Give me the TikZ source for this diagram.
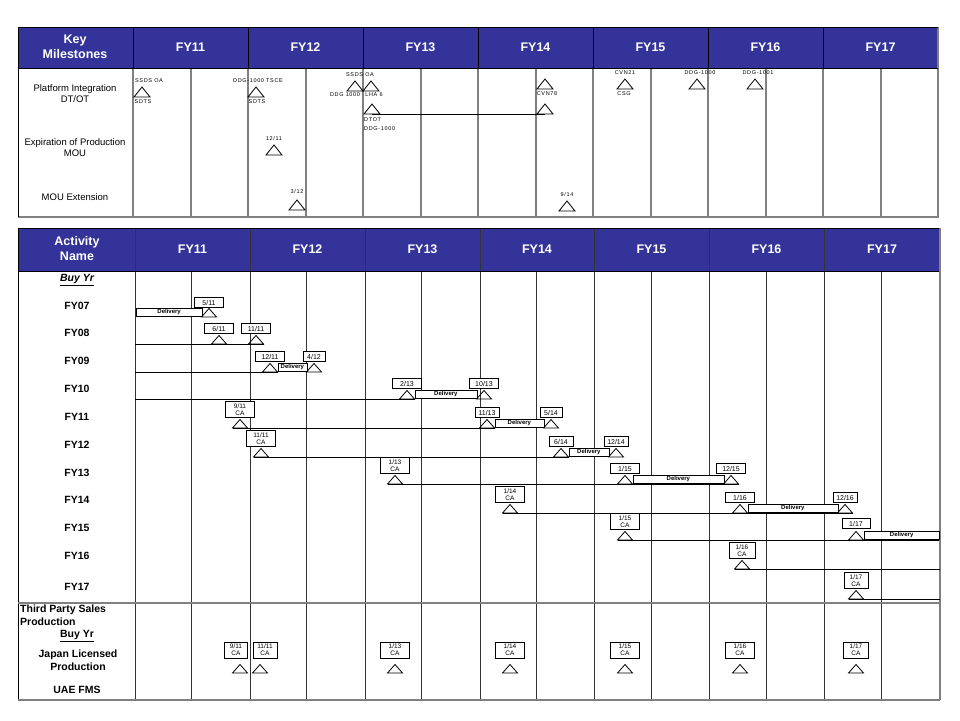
\documentclass[tikz,border=0pt]{standalone}
\usepackage{fontspec}
\setmainfont{Liberation Sans}
\newfontfamily\widefont[LetterSpace=12.0]{Liberation Sans}
\usepackage{tikz}
\usetikzlibrary{calc,positioning}
\definecolor{hdrblue}{RGB}{51,51,153}
\definecolor{gridgray}{RGB}{128,128,128}

% milestone triangle: name, base centre
\newcommand\tri[2]{%
  \coordinate (#1) at (#2);
  \coordinate (#1-l) at ($(#1)+(-\trw,0)$);
  \coordinate (#1-r) at ($(#1)+(\trw,0)$);
  \coordinate (#1-a) at ($(#1)+(0,-\trh)$);
  \draw[line width=0.8pt] (#1-l) -- (#1-a) -- (#1-r) -- cycle;}
% delivery bar: name, left base point, right base point
\newcommand\delv[3]{%
  \path let \p1=(#2), \p2=(#3) in
    node[delbox,anchor=south west,minimum width=\x2-\x1,minimum height=\trh pt] (#1) at (#2) {Delivery};}

\begin{document}
\begin{tikzpicture}[x=1pt,y=-1pt,
  hdr/.style={text=white,font=\bfseries\fontsize{12.5}{15}\selectfont,align=center},
  rowlbl/.style={font=\bfseries\fontsize{10.5}{13}\selectfont,align=center},
  toplbl/.style={font=\fontsize{9.5}{11}\selectfont,align=center},
  mslbl/.style={font=\widefont\fontsize{5.5}{8}\selectfont,inner sep=0pt},
  datebox/.style={draw,line width=0.8pt,fill=white,minimum width=29pt,minimum height=10pt,inner sep=0pt,font=\fontsize{7}{7}\selectfont},
  cabox/.style={datebox,minimum height=16pt,align=center,font=\fontsize{6.5}{7}\selectfont},
  delbox/.style={draw,line width=0.8pt,fill=white,inner sep=0pt,font=\bfseries\fontsize{6}{6}\selectfont},
  gline/.style={line width=0.8pt}]
\useasboundingbox[fill=white] (0,0) rectangle (960,720);

%% key milestones table
\fill[hdrblue] (18,27) rectangle (938,68);
\foreach \x in {191,306,421,536,651,766,881}
  \draw[gridgray,line width=1.5pt] (\x,68) -- (\x,217);
\foreach \x in {133,248,363,478,593,708,823} {
  \draw[line width=0.8pt] (\x,27) -- (\x,68);
  \draw[gridgray,line width=1.5pt] (\x,68) -- (\x,217);
}
\draw[gridgray,line width=1.5pt] (18,217) -- (938,217) -- (938,27);
\draw[line width=0.8pt] (18,217) -- (18,27) -- (938,27);
\draw[line width=0.8pt] (18,68) -- (938,68);
\node[hdr] (kmhd) at (75,47) {Key\\Milestones};
\foreach \y [count=\i from 0] in {11,...,17}
  \node[hdr] (kh\y) at ({190.5+115*\i},47) {FY\y};
\node[toplbl] (pidt) at (75,94) {Platform Integration\\DT/OT};
\node[toplbl] (expm) at (75,148) {Expiration of Production\\MOU};
\node[toplbl] (moux) at (75,197) {MOU Extension};

\def\trw{8}\def\trh{10}
\tri{k1}{142,97} \tri{k2}{256,97}
\tri{k3}{355,91} \tri{k4}{371,91}
\tri{k5}{372,114} \tri{k7}{545,114}
\tri{k6}{545,89} \tri{k8}{625,89} \tri{k9}{697,89} \tri{k10}{755,89}
\tri{k11}{274,155} \tri{k12}{297,210} \tri{k13}{567,211}
\draw[gline] (k5) -- (k7);
\node[mslbl] (n1) at (149,81) {SSDS OA};
\node[mslbl] (n2) at (143,102) {SDTS};
\node[mslbl] (n3) at (258,81) {DDG-1000 TSCE};
\node[mslbl] (n4) at (257,102) {SDTS};
\node[mslbl] (n5) at (360,75) {SSDS OA};
\node[mslbl] (n6) at (345,95) {DDG 1000};
\node[mslbl] (n7) at (374,95) {LHA 6};
\node[mslbl,anchor=west] (n8) at (364,120) {DTOT};
\node[mslbl,anchor=west] (n9) at (364,129) {DDG-1000};
\node[mslbl] (n10) at (547,94) {CVN78};
\node[mslbl] (n11) at (625,73) {CVN21};
\node[mslbl] (n12) at (624,94) {CSG};
\node[mslbl] (n13) at (700,73) {DDG-1000};
\node[mslbl] (n14) at (758,73) {DDG-1001};
\node[mslbl] (n15) at (274,139) {12/11};
\node[mslbl] (n16) at (297,192) {3/12};
\node[mslbl] (n17) at (567,195) {9/14};

%% activity table
\fill[hdrblue] (18,228) rectangle (940,271);
\foreach \x in {191,306,421,536,651,766,881}
  \draw[black!80,line width=0.8pt] (\x,271) -- (\x,700);
\foreach \x in {135,250,365,480,594,709,824}
  \draw[black!80,line width=0.8pt] (\x,228) -- (\x,700);
\draw[line width=0.8pt] (18,700) -- (18,228) -- (940,228);
\draw[line width=0.8pt] (18,271) -- (940,271);
\draw[gridgray,line width=1.5pt] (940,228) -- (940,700);
\draw[gridgray,line width=2pt] (18,603) -- (940,603);
\draw[gridgray,line width=2pt] (18,700) -- (940,700);
\node[hdr] (anhd) at (77,249) {Activity\\Name};
\foreach \y/\x in {11/192.5,12/307.5,13/422.5,14/537,15/651.5,16/766.5,17/882}
  \node[hdr] (ah\y) at (\x,249) {FY\y};

\node[rowlbl] (buy1) at (77,280) {\underline{\itshape Buy Yr}};
\foreach \y/\r in {07/306,08/333,09/361,10/389,11/417,12/445,13/473,14/500,15/528,16/556,17/587}
  \node[rowlbl] (r\y) at (77,\r) {FY\y};
\node[rowlbl,anchor=north west,align=left,inner sep=0pt] (tps) at (20,605) {Third Party Sales\\Production};
\node[rowlbl] (buy2) at (77,636) {\underline{Buy Yr}};
\node[rowlbl] (jlp) at (78,660) {Japan Licensed\\Production};
\node[rowlbl] (uae) at (77,690) {UAE FMS};

\def\trw{7.5}\def\trh{8.5}
% FY07
\coordinate (s07) at (136,317);
\tri{a1}{209,317}
\delv{a0}{s07}{a1-l}
\node[datebox,above=0.5pt of a1-a] (a1b) {5/11};
% FY08
\coordinate (s08) at (135,344);
\tri{b1}{219,344} \tri{b2}{256,344}
\draw[gline] (s08) -- (b2-r);
\node[datebox,above=1.5pt of b1-a] (b1b) {6/11};
\node[datebox,above=1.5pt of b2-a] (b2b) {11/11};
% FY09
\coordinate (s09) at (135,372);
\tri{c1}{270,372} \tri{c2}{314,372}
\draw[gline] (s09) -- (c1-r);
\delv{c12}{c1-r}{c2-l}
\node[datebox,above=1.5pt of c1-a] (c1b) {12/11};
\node[datebox,above=1.5pt of c2-a,minimum width=22pt] (c2b) {4/12};
% FY10
\coordinate (s10) at (135,399);
\tri{d1}{407,399} \tri{d2}{484,399}
\draw[gline] (s10) -- (d1-r);
\delv{d12}{d1-r}{d2-l}
\node[datebox,above=1.5pt of d1-a] (d1b) {2/13};
\node[datebox,above=1.5pt of d2-a] (d2b) {10/13};
% FY11
\tri{e1}{240,428} \tri{e2}{487,428} \tri{e3}{551,428}
\draw[gline] (e1-l) -- (e2-r);
\delv{e23}{e2-r}{e3-l}
\node[cabox,above=1.5pt of e1-a] (e1b) {9/11\\CA};
\node[datebox,above=1.5pt of e2-a,minimum width=24pt] (e2b) {11/13};
\node[datebox,above=1.5pt of e3-a,minimum width=22pt] (e3b) {5/14};
% FY12
\tri{f1}{261,457} \tri{f2}{561,457} \tri{f3}{616,457}
\draw[gline] (f1-l) -- (f2-r);
\delv{f23}{f2-r}{f3-l}
\node[cabox,above=1.5pt of f1-a] (f1b) {11/11\\CA};
\node[datebox,above=1.5pt of f2-a,minimum width=24pt] (f2b) {6/14};
\node[datebox,above=1.5pt of f3-a,minimum width=24pt] (f3b) {12/14};
% FY13
\tri{g1}{395,484} \tri{g2}{625,484} \tri{g3}{731,484}
\draw[gline] (g1-l) -- (g3-r);
\delv{g23}{g2-r}{g3-l}
\node[cabox,above=1.5pt of g1-a] (g1b) {1/13\\CA};
\node[datebox,above=1.5pt of g2-a] (g2b) {1/15};
\node[datebox,above=1.5pt of g3-a] (g3b) {12/15};
% FY14
\tri{h1}{510,513} \tri{h2}{740,513} \tri{h3}{845,513}
\draw[gline] (h1-l) -- (h3-r);
\delv{h23}{h2-r}{h3-l}
\node[cabox,above=1.5pt of h1-a] (h1b) {1/14\\CA};
\node[datebox,above=1.5pt of h2-a] (h2b) {1/16};
\node[datebox,above=1.5pt of h3-a,minimum width=24pt] (h3b) {12/16};
% FY15
\coordinate (e15) at (939,540);
\tri{i1}{625,540} \tri{i2}{856,540}
\draw[gline] (i1-l) -- (e15);
\delv{i2d}{i2-r}{e15}
\node[cabox,above=1.5pt of i1-a] (i1b) {1/15\\CA};
\node[datebox,above=2.5pt of i2-a,minimum width=28pt] (i2b) {1/17};
% FY16
\coordinate (e16) at (940,569);
\tri{j1}{742,569}
\draw[gline] (j1-l) -- (e16);
\node[cabox,above=1.5pt of j1-a,minimum width=26pt] (j1b) {1/16\\CA};
% FY17
\coordinate (e17) at (940,599);
\tri{m1}{856,599}
\draw[gline] (m1-l) -- (e17);
\node[cabox,above=1.5pt of m1-a,minimum width=24pt] (m1b) {1/17\\CA};

% Japan licensed production
\foreach \n/\x in {p1/240,p2/260,p3/395,p4/510,p5/625,p6/740,p7/856}
  {\tri{\n}{\x,673}}
\node[cabox,above=6pt of p1-a,xshift=-4pt,minimum width=23pt] (p1b) {9/11\\CA};
\node[cabox,above=6pt of p2-a,xshift=5pt,minimum width=24pt] (p2b) {11/11\\CA};
\node[cabox,above=6pt of p3-a] (p3b) {1/13\\CA};
\node[cabox,above=6pt of p4-a] (p4b) {1/14\\CA};
\node[cabox,above=6pt of p5-a] (p5b) {1/15\\CA};
\node[cabox,above=6pt of p6-a] (p6b) {1/16\\CA};
\node[cabox,above=6pt of p7-a,minimum width=25pt] (p7b) {1/17\\CA};
\end{tikzpicture}
\end{document}
